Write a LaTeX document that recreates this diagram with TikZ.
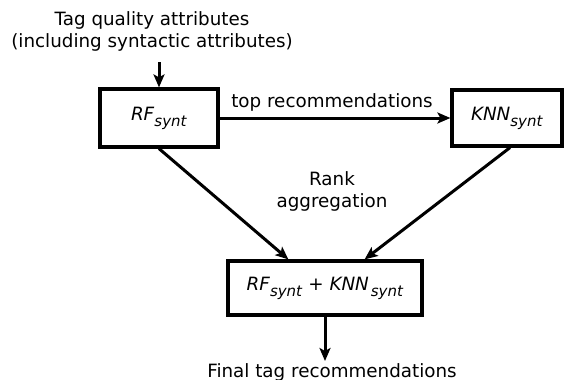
\documentclass[tikz,border=0pt]{standalone}
\usepackage{fontspec}
\setmainfont{DejaVu Sans}
\usetikzlibrary{arrows.meta,calc}

% model name with an italic subscript
\newcommand{\mdl}[2]{\textit{#1}\raisebox{-0.32em}{\fontsize{15}{15}\selectfont\textit{#2}}}

\tikzset{
  txt/.style={font=\fontsize{18.3}{22}\selectfont, inner sep=0pt, align=center},
  box/.style={draw, line width=3.2pt, rectangle, inner sep=0pt, txt},
  arr/.style={line width=3pt, -{Stealth[length=13pt,width=11pt,inset=3pt]}}
}

\begin{document}
\begin{tikzpicture}[x=1pt,y=-1pt]
  \useasboundingbox (0,0) rectangle (565,380);

  % input description
  \node[txt, anchor=base] (in1) at (152,25) {Tag quality attributes};
  \node[txt, anchor=base] (in2) at (152,47) {(including syntactic attributes)};
  \coordinate (inA) at (159,62);

  % model boxes
  \node[box, minimum width=118pt, minimum height=58pt] (rf) at (159,118) {\mdl{RF}{synt}};
  \node[box, minimum width=110pt, minimum height=56pt] (knn) at (507,118) {\mdl{KNN}{synt}};
  \node[box, minimum width=194pt, minimum height=54pt] (comb) at (325,288)
       {\mdl{RF}{synt} + \textit{KNN}\kern2pt\raisebox{-0.32em}{\fontsize{15}{15}\selectfont\textit{synt}}};

  % labels
  \node[txt, anchor=base] (top) at (332,107) {top recommendations};
  \node[txt, anchor=base] (rank) at (332,207) {Rank\\aggregation};
  \node[txt, anchor=base] (fin) at (332,377) {Final tag recommendations};
  \coordinate (outA) at (325,361);

  % connectors
  \draw[arr] (inA) -- (rf.north);
  \draw[arr] (rf.east) -- (knn.west);
  \draw[arr] (rf.south) -- ($(comb.north west)+(62,0)$);
  \draw[arr] ($(knn.south)+(3,0)$) -- ($(comb.north east)+(-59,0)$);
  \draw[arr] (comb.south) -- (outA);
\end{tikzpicture}
\end{document}
